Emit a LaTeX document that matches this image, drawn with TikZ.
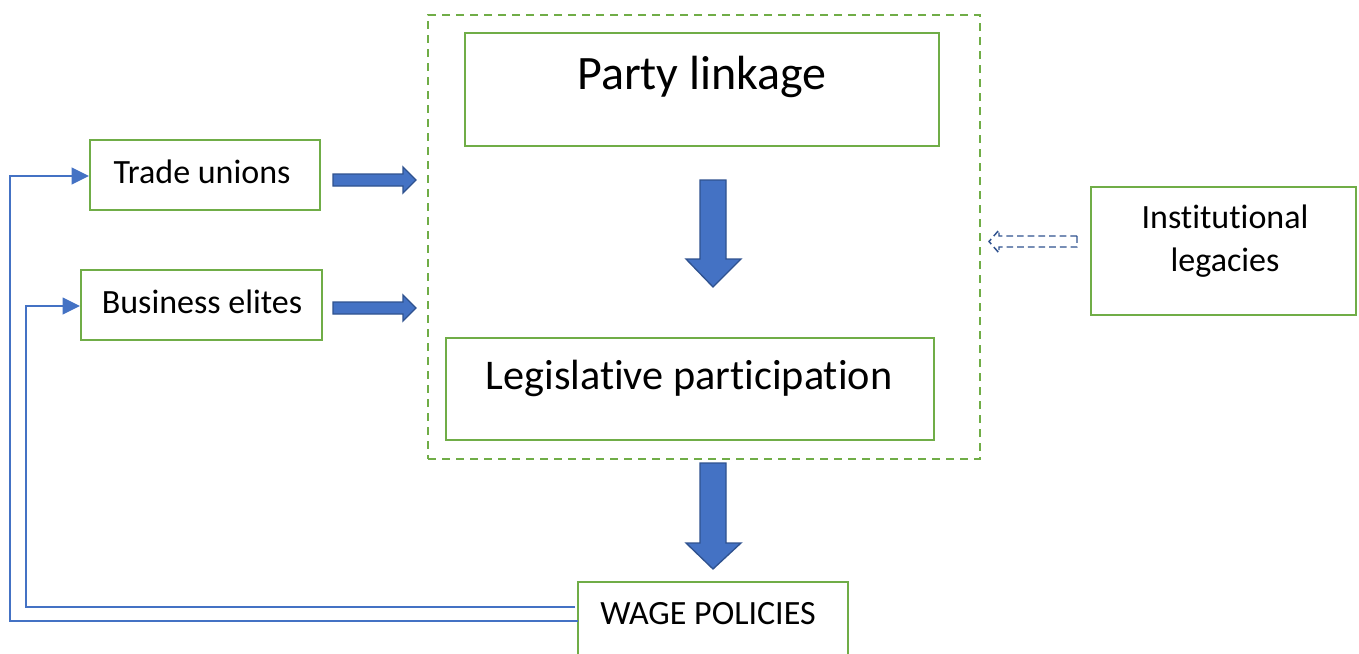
\documentclass[tikz,border=0pt]{standalone}
\usepackage{fontspec}
\setmainfont[Ligatures={NoCommon,NoRare,NoContextual}]{Carlito}
\usetikzlibrary{arrows.meta,fit}
\definecolor{gbox}{HTML}{70AD47}
\definecolor{bfill}{HTML}{4472C4}
\definecolor{bline}{HTML}{2F528F}
\begin{document}
\begin{tikzpicture}[x=0.75pt,y=-0.75pt,
  box/.style={draw=gbox, line width=1.5pt, inner sep=0pt},
  frame/.style={draw=gbox, line width=1.4pt, dash pattern=on 6pt off 4.5pt, inner sep=0pt},
  blk/.style={fill=bfill, draw=bline, line width=1pt, line join=miter},
  hollow/.style={fill=white, draw=bline, line width=1.1pt, dash pattern=on 5pt off 3pt},
  fb/.style={draw=bfill, line width=1.2pt, -{Triangle[length=13pt,width=12.5pt]}},
  small/.style={font=\fontsize{25.5}{32.5}\selectfont, inner sep=0pt},
]
\useasboundingbox (0,0) rectangle (1359,653);
% frame
\node[frame, fit={(428,15) (980,459)}] (frame) {};
% boxes
\node[box, fit={(465,33) (939,146)}] (party) {};
\node[box, fit={(446,338) (934,440)}] (legis) {};
\node[box, fit={(90,140) (320,210)}] (trade) {};
\node[box, fit={(81,270) (322,340)}] (biz) {};
\node[box, fit={(1091,187) (1356,315)}] (inst) {};
\node[box, fit={(578,582) (848,700)}] (wage) {};
% texts
\node[font=\fontsize{36}{43}\selectfont, inner sep=0pt] (partyt) at (702,77) {Party linkage};
\node[font=\fontsize{31.7}{38}\selectfont, inner sep=0pt] (legist) at (689,378) {Legislative participation};
\node[small] (tradet) at (202,172) {Trade unions};
\node[small] (bizt) at (202,302) {Business elites};
\node[small, align=center] (instt) at (1225,241) {Institutional\\legacies};
\node[small] (waget) at (708,614) {WAGE POLICIES};
% block arrows
\draw[blk] (333,174)--(403,174)--(403,167)--(416,180)--(403,193)--(403,186)--(333,186)--cycle;
\draw[blk] (333,302)--(403,302)--(403,295)--(416,308)--(403,321)--(403,314)--(333,314)--cycle;
\draw[blk] (700,180)--(726,180)--(726,259)--(741,259)--(713,287)--(686,259)--(700,259)--cycle;
\draw[blk] (700,463)--(726,463)--(726,543)--(741,543)--(713,569)--(686,543)--(700,543)--cycle;
% dashed hollow arrow
\draw[hollow] (1077,236)--(999,236)--(999,230)--(989,241.5)--(999,253)--(999,247)--(1077,247)--cycle;
% feedback lines
\coordinate (o1) at (578,621);
\coordinate (o2) at (10,621);
\coordinate (t1) at (trade.west |- 0,176);
\coordinate (i1) at (575,607);
\coordinate (i2) at (26,607);
\coordinate (b1) at (biz.west |- 0,306);
\draw[fb] (o1) -- (o2) |- (t1);
\draw[fb] (i1) -- (i2) |- (b1);
\end{tikzpicture}
\end{document}
